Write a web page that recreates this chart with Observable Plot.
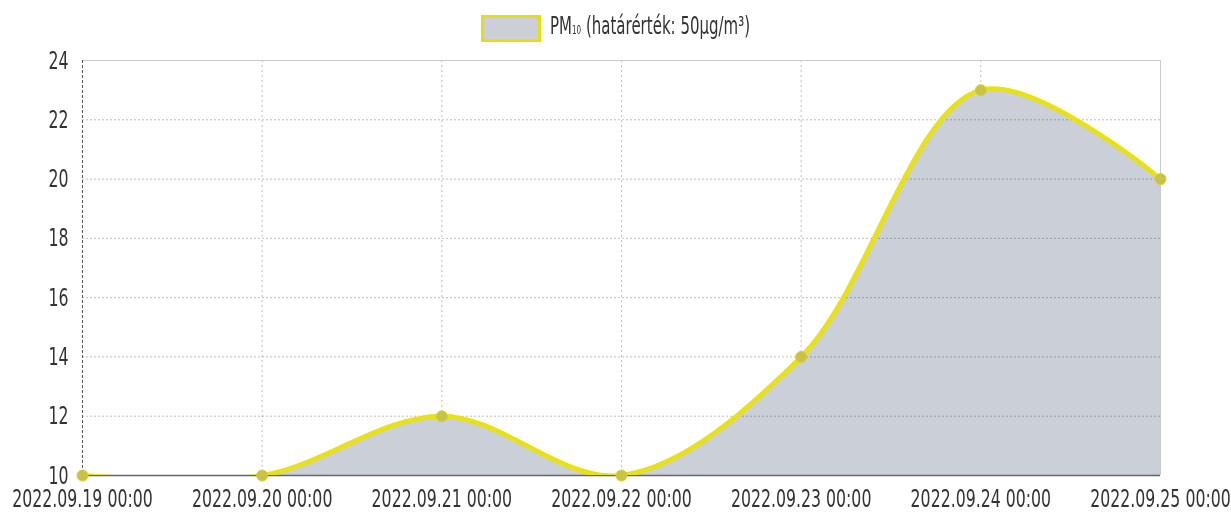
<!DOCTYPE html>
<html>
<head>
<meta charset="utf-8">
<script src="https://cdn.jsdelivr.net/npm/d3@7"></script>
<script src="https://cdn.jsdelivr.net/npm/@observablehq/plot@0.6"></script>
<style>
  body { margin: 0; background: #fff; }
  #legend { height: 50px; position: relative; font-family: "DejaVu Sans", sans-serif; color: #333; }
  #legend .sw { position: absolute; left: 481px; top: 15px; width: 54px; height: 21px; background: #cbd0d8; border: 3px solid #e6df10; }
  #legend .tx { position: absolute; left: 550px; top: 11px; font-size: 25px; white-space: nowrap; transform: scaleX(0.6); transform-origin: 0 0; }
  #legend sub { font-size: 12px; vertical-align: 0px; }
  #chart svg { font-family: "DejaVu Sans", sans-serif; overflow: visible; }
</style>
</head>
<body>
<div id="legend"><div class="sw"></div><span class="tx">PM<sub>10</sub> (határérték: 50µg/m³)</span></div>
<div id="chart"></div>
<script>
const dates = ["2022-09-19", "2022-09-20", "2022-09-21", "2022-09-22", "2022-09-23", "2022-09-24", "2022-09-25"];
const pm10 = [10, 10, 12, 10, 14, 23, 20];
const yTicks = [10, 12, 14, 16, 18, 20, 22, 24];

const data = dates.map((d, i) => ({ date: new Date(d + "T00:00:00Z"), value: pm10[i] }));
const fmt = d3.utcFormat("%Y.%m.%d %H:%M");

const chart = Plot.plot({
  width: 1231,
  height: 470,
  marginTop: 10,
  marginLeft: 82,
  marginRight: 71,
  marginBottom: 45,
  style: { fontSize: "25px", color: "#333", background: "#fff" },
  x: { type: "utc", domain: [data[0].date, data[data.length - 1].date] },
  y: { domain: [10, 24] },
  marks: [
    Plot.gridX(data.map(d => d.date), { stroke: "#9aa6b8", strokeOpacity: 0.7, strokeDasharray: "2,3" }),
    Plot.areaY(data, { x: "date", y1: 10, y2: "value", curve: "catmull-rom", fill: "#cbd0d8", clip: true }),
    Plot.ruleY(yTicks, { stroke: "#a8a8a8", strokeOpacity: 0.75, strokeDasharray: "2,2", mixBlendMode: "multiply" }),
    Plot.ruleY([24], { stroke: "#c8ccd2" }),
    Plot.ruleX([data[data.length - 1].date], { stroke: "#c8ccd2" }),
    Plot.ruleX([data[0].date], { stroke: "#555", strokeDasharray: "3,2" }),
    Plot.ruleY([10], { stroke: "#666", strokeWidth: 1.5 }),
    Plot.lineY(data, { x: "date", y: "value", curve: "catmull-rom", stroke: "#e8e018", strokeWidth: 5, clip: true }),
    Plot.dot(data, { x: "date", y: "value", r: 5.5, fill: "#c9c248", stroke: "#d8d030", strokeWidth: 1 }),
    Plot.axisY(yTicks, { tickSize: 0, tickPadding: 14, label: null }),
    Plot.axisX(data.map(d => d.date), { tickSize: 0, tickPadding: 14, tickFormat: fmt, label: null })
  ]
});
document.getElementById("chart").appendChild(chart);

function squeeze(sel, k) {
  d3.select(chart).selectAll(sel).each(function () {
    const t = d3.select(this);
    let tr = t.attr("transform") || "";
    const x = t.attr("x");
    if (x != null && isFinite(+x)) {
      tr = tr + ` translate(${+x},0)`;
      t.attr("x", null);
    }
    t.attr("transform", tr + ` scale(${k},1)`);
  });
}
squeeze('g[aria-label="x-axis tick label"] text', 0.63);
squeeze('g[aria-label="y-axis tick label"] text', 0.63);
</script>
</body>
</html>
